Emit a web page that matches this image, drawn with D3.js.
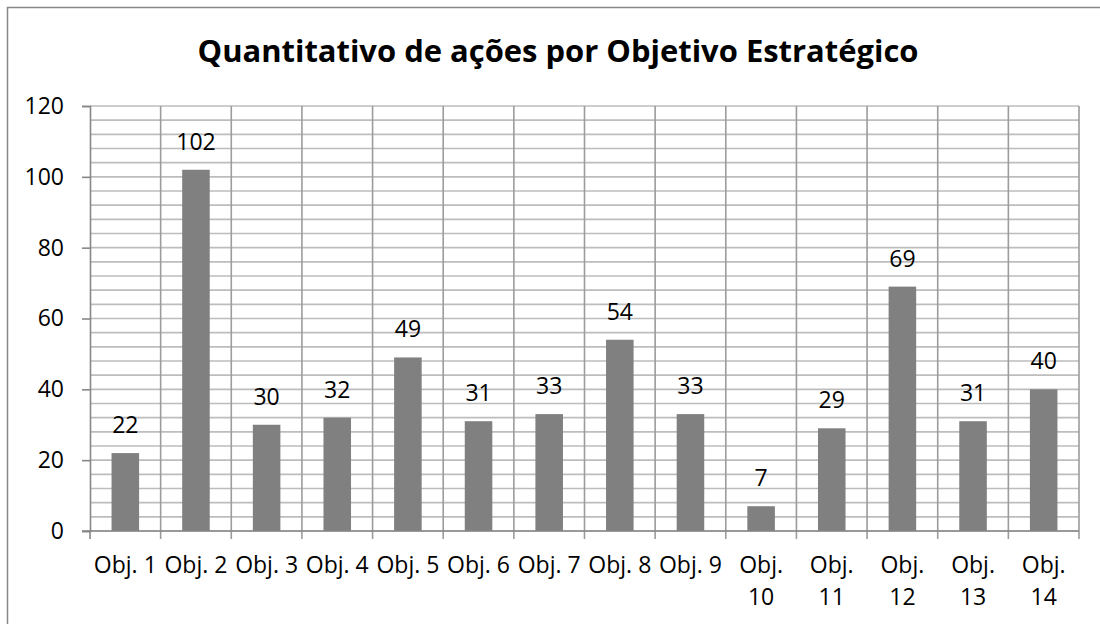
<!DOCTYPE html>
<html><head><meta charset="utf-8">
<script src="https://cdn.jsdelivr.net/npm/d3@7"></script>
<style>body{margin:0;background:#fff}svg{display:block}</style>
</head><body>
<svg id="c" width="1100" height="624"></svg>
<script>
const categories = ["Obj. 1","Obj. 2","Obj. 3","Obj. 4","Obj. 5","Obj. 6","Obj. 7","Obj. 8","Obj. 9","Obj. 10","Obj. 11","Obj. 12","Obj. 13","Obj. 14"];
const values = [22,102,30,32,49,31,33,54,33,7,29,69,31,40];
const yTicks = [0,20,40,60,80,100,120];
const minorStep = 4;
const title = "Quantitativo de ações por Objetivo Estratégico";

const svg = d3.select("#c");
const FONT = "'Open Sans', 'Liberation Sans', sans-serif";
const FS = 23;
const L = 90, R = 1079, T = 106, B = 531;

svg.append("rect").attr("x",7.5).attr("y",7.5).attr("width",1110).attr("height",640)
  .attr("fill","#fff").attr("stroke","#878787").attr("stroke-width",1.5);

const x = d3.scaleBand().domain(categories).range([L,R]).paddingInner(0.61).paddingOuter(0.305);
const xb = d3.scaleBand().domain(categories).range([L,R]);
const y = d3.scaleLinear().domain([0,120]).range([B,T]);

// minor horizontal gridlines
const minor = d3.range(0,121,minorStep);
svg.append("g").selectAll("line").data(minor).join("line")
  .attr("x1",L).attr("x2",R).attr("y1",d=>y(d)).attr("y2",d=>y(d))
  .attr("stroke","#bdbdbd").attr("stroke-width",1.6);

// vertical category separators
const bounds = categories.map(c=>xb(c)).concat([R]);
svg.append("g").selectAll("line").data(bounds.slice(1)).join("line")
  .attr("x1",d=>d).attr("x2",d=>d).attr("y1",T).attr("y2",B+8)
  .attr("stroke","#9c9c9c").attr("stroke-width",1.6);

// bars
svg.append("g").selectAll("rect").data(values).join("rect")
  .attr("x",(d,i)=>x(categories[i])).attr("width",x.bandwidth())
  .attr("y",d=>y(d)).attr("height",d=>B-y(d)).attr("fill","#808080");

// y axis
const yAxis = d3.axisLeft(y).tickValues(yTicks).tickSize(8).tickPadding(18);
const gy = svg.append("g").attr("transform",`translate(${L},0)`).call(yAxis);
gy.select(".domain").attr("stroke","#878787").attr("stroke-width",1.6);
gy.selectAll(".tick line").attr("stroke","#878787").attr("stroke-width",1.6);
gy.selectAll(".tick text").attr("font-family",FONT).attr("font-size",FS).attr("fill","#000");

// x axis
const xAxis = d3.axisBottom(xb).tickSize(0).tickPadding(0).tickFormat("");
const gx = svg.append("g").attr("transform",`translate(0,${B})`).call(xAxis);
gx.select(".domain").attr("stroke","#878787").attr("stroke-width",1.6).attr("d",`M${L-8},0H${R}`);
svg.append("line").attr("x1",L).attr("x2",L).attr("y1",B).attr("y2",B+8).attr("stroke","#878787").attr("stroke-width",1.6);

// category labels with wrapping
const lab = svg.append("g");
categories.forEach(c=>{
  const cx = xb(c)+xb.bandwidth()/2;
  const t = lab.append("text").attr("x",cx).attr("y",573).attr("text-anchor","middle")
    .attr("font-family",FONT).attr("font-size",FS).attr("fill","#000").text(c);
  if (t.node().getComputedTextLength() > xb.bandwidth()+2) {
    const parts = c.split(" ");
    t.text(null);
    t.append("tspan").attr("x",cx).attr("y",573).text(parts[0]);
    t.append("tspan").attr("x",cx).attr("y",605).text(parts.slice(1).join(" "));
  }
});

// data labels
svg.append("g").selectAll("text").data(values).join("text")
  .attr("x",(d,i)=>xb(categories[i])+xb.bandwidth()/2).attr("y",d=>y(d)-20)
  .attr("text-anchor","middle").attr("font-family",FONT).attr("font-size",FS).attr("fill","#000")
  .text(d=>d);

// title
const tt = svg.append("text").attr("x",558).attr("y",62).attr("text-anchor","middle")
  .attr("font-family",FONT).attr("font-weight","bold").attr("font-size",30).attr("fill","#000").text(title);
const w = tt.node().getComputedTextLength();
tt.attr("font-size", 30*721/w);
</script>
</body></html>
